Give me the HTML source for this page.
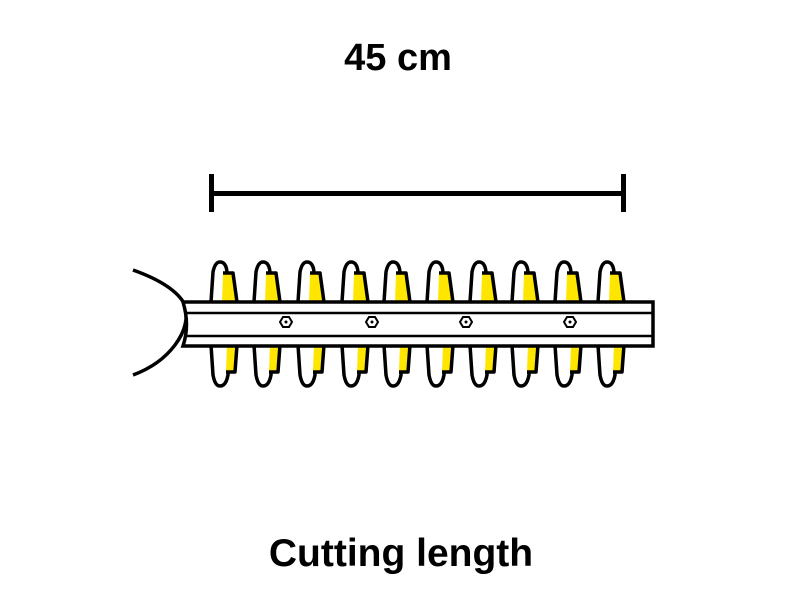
<!DOCTYPE html>
<html><head><style>
body{margin:0;background:#fff;}
svg{display:block}
</style></head><body>
<svg width="800" height="600" viewBox="0 0 800 600" xmlns="http://www.w3.org/2000/svg">
<defs>
<g id="t">
  <path d="M-10,302 L-8,272 Q-6,262 -1,262 Q5,262 6,272 L7,302" fill="#fff" stroke="#000" stroke-width="3.5"/>
  <path d="M2,273 L12,273 L16,302 L1,302 Z" fill="#ffe600"/>
  <path d="M2,273 L12,273 L16,302" fill="none" stroke="#000" stroke-width="3.5" stroke-linejoin="round"/>
  <path d="M-10,345 L-8,375 Q-6,386 -1,386 Q5,386 7,375 L8,345" fill="#fff" stroke="#000" stroke-width="3.5"/>
  <path d="M6,345 L16,345 L14,372 L5,372 Z" fill="#ffe600"/>
  <path d="M5,372 L14,372 L16,345" fill="none" stroke="#000" stroke-width="3.5" stroke-linejoin="round"/>
</g>
</defs>
<text x="398" y="70" font-family="Liberation Sans, sans-serif" font-weight="bold" font-size="38" text-anchor="middle">45 cm</text>
<rect x="209" y="191" width="417" height="5" fill="#000"/>
<rect x="209" y="174" width="5" height="38" fill="#000"/>
<rect x="621" y="174" width="5" height="38" fill="#000"/>
<path d="M133,270 Q175,285 185,305 Q190,325 175,345 Q160,365 133,375" fill="#fff" stroke="#000" stroke-width="3.5"/>
<use href="#t" x="221"/><use href="#t" x="264"/><use href="#t" x="308"/><use href="#t" x="352"/><use href="#t" x="394"/>
<use href="#t" x="437"/><use href="#t" x="480"/><use href="#t" x="522"/><use href="#t" x="565"/><use href="#t" x="608"/>
<path d="M183,302 L653,302 L653,346 L183,346 Q190,325 183,302 Z" fill="#fff" stroke="#000" stroke-width="3.5"/>
<line x1="187" y1="313" x2="653" y2="313" stroke="#000" stroke-width="2.5"/>
<line x1="187" y1="336" x2="653" y2="336" stroke="#000" stroke-width="2.5"/>
<g fill="#fff" stroke="#000" stroke-width="2">
<polygon points="280,322 283,317 289,317 292,322 289,327 283,327"/>
<polygon points="366,322 369,317 375,317 378,322 375,327 369,327"/>
<polygon points="460,322 463,317 469,317 472,322 469,327 463,327"/>
<polygon points="564,322 567,317 573,317 576,322 573,327 567,327"/>
</g>
<g fill="#000"><circle cx="286" cy="322" r="1.5"/><circle cx="372" cy="322" r="1.5"/><circle cx="466" cy="322" r="1.5"/><circle cx="570" cy="322" r="1.5"/></g>
<text x="401" y="566" font-family="Liberation Sans, sans-serif" font-weight="bold" font-size="39" text-anchor="middle">Cutting length</text>
</svg>
</body></html>
